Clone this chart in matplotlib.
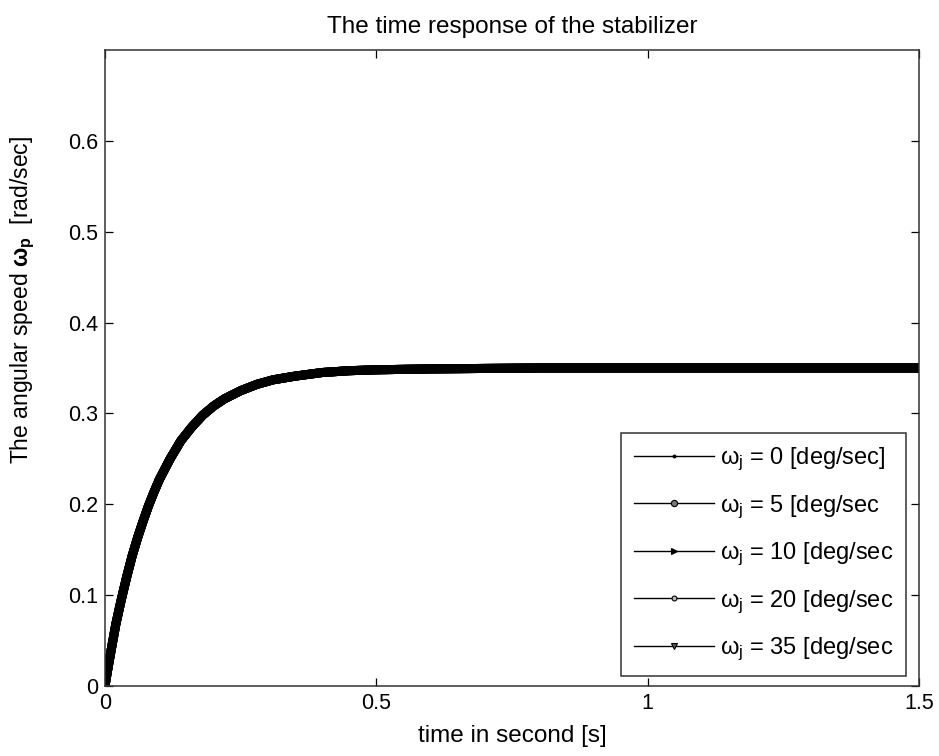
import matplotlib
matplotlib.use("Agg")
import matplotlib.pyplot as plt

# Data (time in s, angular speed in rad/sec)
t = [0.0, 0.005, 0.01, 0.02, 0.03, 0.04, 0.05, 0.06, 0.07, 0.08, 0.09, 0.10,
     0.12, 0.14, 0.16, 0.18, 0.20, 0.22, 0.25, 0.28, 0.31, 0.35, 0.40, 0.45,
     0.50, 0.60, 0.80, 1.0, 1.2, 1.5]
w = [0.0, 0.018, 0.035, 0.068, 0.095, 0.120, 0.143, 0.163, 0.181, 0.198, 0.213, 0.227,
     0.250, 0.270, 0.285, 0.298, 0.308, 0.316, 0.325, 0.332, 0.337, 0.341, 0.345, 0.347,
     0.348, 0.349, 0.350, 0.350, 0.350, 0.350]

legend_labels = [r"$\omega_\mathregular{j}$ = 0 [deg/sec]",
                 r"$\omega_\mathregular{j}$ = 5 [deg/sec",
                 r"$\omega_\mathregular{j}$ = 10 [deg/sec",
                 r"$\omega_\mathregular{j}$ = 20 [deg/sec",
                 r"$\omega_\mathregular{j}$ = 35 [deg/sec"]
markers = [".", "o", ">", "o", "v"]
msizes = [4, 4.5, 4.5, 3.5, 4.5]
mfaces = ["black", "#777777", "black", "#bbbbbb", "#555555"]

xticks = [0, 0.5, 1, 1.5]
xticklabels = ["0", "0.5", "1", "1.5"]
yticks = [0, 0.1, 0.2, 0.3, 0.4, 0.5, 0.6]
yticklabels = ["0", "0.1", "0.2", "0.3", "0.4", "0.5", "0.6"]

plt.rcParams['font.family'] = ['Liberation Sans', 'DejaVu Sans']
plt.rcParams['mathtext.fontset'] = 'custom'
plt.rcParams['mathtext.rm'] = 'Liberation Sans'
plt.rcParams['mathtext.it'] = 'Liberation Sans'
plt.rcParams['mathtext.bf'] = 'Liberation Sans:bold'

fig = plt.figure(figsize=(9.39, 7.56), dpi=100)
ax = fig.add_axes([0.1118, 0.0926, 0.8669, 0.8413])

for lab in legend_labels:
    # all five responses coincide: thick band from dense markers
    ax.plot(t, w, color="black", lw=6.5, solid_capstyle="round",
            solid_joinstyle="round", zorder=2)

handles = []
for lab, mk, ms, fc in zip(legend_labels, markers, msizes, mfaces):
    h, = ax.plot([], [], color="black", lw=1, marker=mk, markersize=ms,
                 markerfacecolor=fc, markeredgecolor="black",
                 markeredgewidth=0.8, label=lab)
    handles.append(h)

ax.set_xlim(0, 1.5)
ax.set_ylim(0, 0.7)
ax.set_xticks(xticks)
ax.set_xticklabels(xticklabels)
ax.set_yticks(yticks)
ax.set_yticklabels(yticklabels)
ax.tick_params(direction="in", top=True, right=True, length=6, width=0.9,
               labelsize=15.5, pad=5)
for s in ax.spines.values():
    s.set_linewidth(1.1)
    s.set_color("#333333")

ax.set_title("The time response of the stabilizer", fontsize=17.5, pad=12)
ax.set_xlabel("time in second [s]", fontsize=17.5, labelpad=8)
ax.set_ylabel(r"The angular speed $\mathbf{\omega_p}$  [rad/sec]", fontsize=16.5)
ax.yaxis.set_label_coords(-0.084, 0.607)

leg = ax.legend(handles=handles, loc="lower right", fontsize=17,
                frameon=True, fancybox=False, edgecolor="black",
                handlelength=3.4, labelspacing=0.85, borderpad=0.55,
                handletextpad=0.25, borderaxespad=0.0,
                bbox_to_anchor=(0.984, 0.0157))
leg.get_frame().set_linewidth(1.1)

fig.savefig("out.png", dpi=100, facecolor="white")
